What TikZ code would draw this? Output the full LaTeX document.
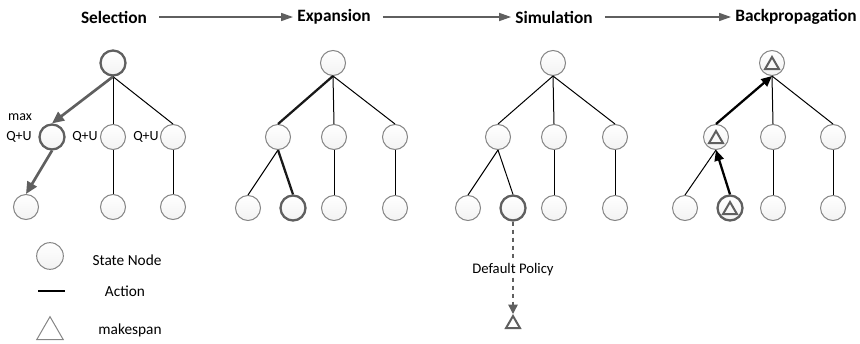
\documentclass[tikz,border=0pt]{standalone}
\usepackage{fontspec}
\setmainfont{Carlito}
\usetikzlibrary{shapes.geometric,arrows.meta}
\definecolor{edgegray}{HTML}{5F5F5F}
\definecolor{rimgray}{HTML}{858585}
\tikzset{
  st/.style={circle,draw=rimgray,line width=0.75pt,top color=white,bottom color=black!5,minimum size=18.75pt,inner sep=0pt},
  cur/.style={st,draw=edgegray,line width=1.7pt},
  tri/.style={regular polygon,regular polygon sides=3,draw=edgegray,line width=1.5pt,minimum size=12pt,inner sep=0pt},
  act/.style={line width=0.75pt},
  hot/.style={line width=1.7pt,black!90},
  pick/.style={edgegray,line width=2pt,-{Triangle[length=9pt,width=8pt]}},
  back/.style={black,line width=1.7pt,-{Triangle[length=8pt,width=7pt]}},
  stage/.style={font=\fontsize{13}{15}\selectfont\bfseries,inner sep=0pt},
  flow/.style={edgegray,line width=1.2pt,-{Triangle[length=9pt,width=6pt]},shorten <=9pt,shorten >=3pt},
  lbl/.style={font=\fontsize{10.5}{12}\selectfont,inner sep=1pt},
  leg/.style={font=\fontsize{11.5}{13}\selectfont,inner sep=1pt}
}
\begin{document}
\begin{tikzpicture}[x=0.75pt,y=-0.75pt]
\useasboundingbox (0,0) rectangle (860,343);
% stage titles
\node[stage] (t1) at (114,17) {Selection};
\node[stage] (t2) at (334,17) {Expansion};
\node[stage] (t3) at (554,17) {Simulation};
\node[stage] (t4) at (796,17) {Backpropagation};
\draw[flow] (t1) -- (t2);
\draw[flow] (t2) -- (t3);
\draw[flow] (t3) -- (t4);
% selection
\node[cur] (a) at (113,63) {};
\node[cur] (a1) at (52,137) {}; \node[st] (a2) at (113,137) {}; \node[st] (a3) at (173,137) {};
\node[st] (a11) at (26,207) {}; \node[st] (a21) at (113,207) {}; \node[st] (a31) at (173,207) {};
\draw[act] (a.south) -- (a2.north); \draw[act] (a.south) -- (a3.north);
\draw[act] (a2) -- (a21); \draw[act] (a3) -- (a31);
\draw[pick] (a.south) -- (a1.north); \draw[pick] (a1.south) -- (a11.north);
\node[lbl] (mx) at (20,117) {max};
\node[lbl] (q1) at (19,137) {Q+U}; \node[lbl] (q2) at (85,137) {Q+U}; \node[lbl] (q3) at (146,137) {Q+U};
% expansion
\node[st] (b) at (333,63) {};
\node[st] (b1) at (278,137) {}; \node[st] (b2) at (334,137) {}; \node[st] (b3) at (395,137) {};
\node[st] (b11) at (248,208) {}; \node[cur] (b12) at (293,208) {}; \node[st] (b21) at (334,208) {}; \node[st] (b31) at (395,208) {};
\draw[hot] (b.south) -- (b1.north); \draw[act] (b.south) -- (b2.north); \draw[act] (b.south) -- (b3.north);
\draw[act] (b1.south) -- (b11.north); \draw[hot] (b1.south) -- (b12.north);
\draw[act] (b2) -- (b21); \draw[act] (b3) -- (b31);
% simulation
\node[st] (c) at (553,63) {};
\node[st] (c1) at (498,137) {}; \node[st] (c2) at (554,137) {}; \node[st] (c3) at (615,137) {};
\node[st] (c11) at (468,208) {}; \node[cur] (c12) at (513,208) {}; \node[st] (c21) at (554,208) {}; \node[st] (c31) at (615,208) {};
\draw[act] (c.south) -- (c1.north); \draw[act] (c.south) -- (c2.north); \draw[act] (c.south) -- (c3.north);
\draw[act] (c1.south) -- (c11.north); \draw[act] (c1.south) -- (c12.north);
\draw[act] (c2) -- (c21); \draw[act] (c3) -- (c31);
\node[tri] (cm) at (513,324) {};
\draw[edgegray,line width=1.1pt,dashed,-{Triangle[length=7pt,width=7pt]}] (c12.south) -- (cm.north)
  node[pos=0.52,fill=white,text=black,font=\fontsize{11}{13}\selectfont,inner sep=1pt] (dp) {Default Policy};
% backpropagation
\node[st] (d) at (772,63) {};
\node[st] (d1) at (716,137) {}; \node[st] (d2) at (773,137) {}; \node[st] (d3) at (833,137) {};
\node[st] (d11) at (685,208) {}; \node[cur] (d12) at (730,208) {}; \node[st] (d21) at (773,208) {}; \node[st] (d31) at (833,208) {};
\node[tri] (dm) at (772,65) {}; \node[tri] (dm1) at (716,139) {}; \node[tri] (dm12) at (730,210) {};
\draw[act] (d.south) -- (d2.north); \draw[act] (d.south) -- (d3.north);
\draw[act] (d1.south) -- (d11.north);
\draw[act] (d2) -- (d21); \draw[act] (d3) -- (d31);
\draw[back] (d1.north) -- (d.south); \draw[back] (d12.north) -- (d1.south);
% legend
\node[st,minimum size=20pt] (ls) at (50,256) {};
\node[leg] (lst) at (127,260) {State Node};
\coordinate (la) at (38,291); \coordinate (lb) at (65,291);
\draw[black,line width=1.6pt] (la) -- (lb);
\node[leg] (lat) at (125,291) {Action};
\node[regular polygon,regular polygon sides=3,draw=rimgray,line width=0.75pt,minimum size=23pt,inner sep=0pt] (lm) at (50,332) {};
\node[leg] (lmt) at (130,330) {makespan};
\end{tikzpicture}
\end{document}
